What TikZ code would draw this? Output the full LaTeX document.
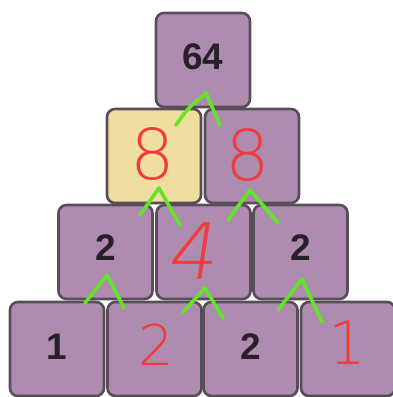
\documentclass[tikz,border=0pt]{standalone}
\usepackage{fontspec}
\setmainfont{Liberation Sans}
\newfontfamily\hand{DejaVu Sans ExtraLight}
\definecolor{boxfill}{RGB}{174,140,176}
\definecolor{boxline}{RGB}{88,78,88}
\definecolor{yel}{RGB}{240,222,158}
\definecolor{numc}{RGB}{40,32,40}
\definecolor{redink}{RGB}{240,60,60}
\definecolor{greenink}{RGB}{100,228,40}
\begin{document}
\begin{tikzpicture}[x=1pt,y=-1pt,
  brick/.style={draw=boxline,line width=2.6pt,fill=boxfill,rounded corners=8pt,minimum width=94pt,minimum height=94pt,inner sep=0pt},
  num/.style={font=\bfseries\fontsize{37}{37}\selectfont,text=numc},
  redn/.style={font=\hand\fontsize{#1}{#1}\selectfont,text=redink,inner sep=0pt},
  caret/.style={draw=greenink,line width=3.6pt,line cap=round,line join=round}]
\useasboundingbox (0,0) rectangle (393,397);
\fill[white] (0,0) rectangle (393,397);
% bricks
\node[brick] (t) at (203,60) {};
\node[brick,fill=yel] (a1) at (154,156) {};
\node[brick] (a2) at (252,156) {};
\node[brick] (b1) at (105.5,252) {};
\node[brick] (b2) at (203.5,252) {};
\node[brick] (b3) at (300.5,252) {};
\node[brick] (c1) at (57,349) {};
\node[brick] (c2) at (154.5,349) {};
\node[brick] (c3) at (250.5,349) {};
\node[brick] (c4) at (348,349) {};
% printed numbers
\node[num] (n64) at (t.center) [yshift=3pt] {64};
\node[num] (nb1) at (b1.center) [yshift=4pt] {2};
\node[num] (nb3) at (b3.center) [yshift=4pt] {2};
\node[num] (nc1) at (c1.center) [yshift=2pt] {1};
\node[num] (nc3) at (c3.center) [yshift=2pt] {2};
% handwritten numbers
\node[redn=70] (ha1) at (153,154) {8};
\node[redn=70] (ha2) at (248,155) {8};
\node[redn=78,xslant=0.15] (hb2) at (196,251) {4};
\node[redn=56] (hc2) at (156,345) {2};
\node[redn=60] (hc4) at (348,343) {1};
% green carets
\coordinate (g1l) at (176,125); \coordinate (g1a) at (206,93); \coordinate (g1r) at (220,125);
\coordinate (g2l) at (140,215); \coordinate (g2a) at (159,188); \coordinate (g2r) at (180,225);
\coordinate (g3l) at (228,220); \coordinate (g3a) at (250,190); \coordinate (g3r) at (278,223);
\coordinate (g4l) at (85,303); \coordinate (g4a) at (107,275); \coordinate (g4r) at (124,308);
\coordinate (g5l) at (183,312); \coordinate (g5a) at (205,288); \coordinate (g5r) at (223,318);
\coordinate (g6l) at (278,310); \coordinate (g6a) at (302,279); \coordinate (g6r) at (322,322);
\draw[caret] (g1l) .. controls (188,108) .. (g1a) -- (g1r);
\draw[caret] (g2l) -- (g2a) -- (g2r);
\draw[caret] (g3l) -- (g3a) -- (g3r);
\draw[caret] (g4l) -- (g4a) -- (g4r);
\draw[caret] (g5l) -- (g5a) -- (g5r);
\draw[caret] (g6l) -- (g6a) -- (g6r);
\end{tikzpicture}
\end{document}
